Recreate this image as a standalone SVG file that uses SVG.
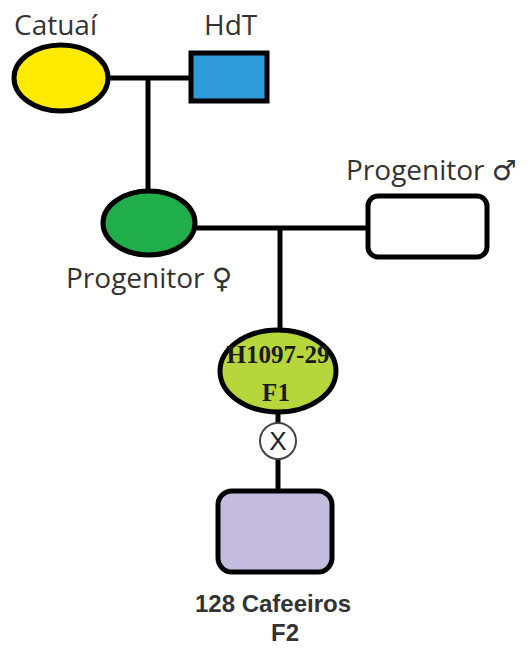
<svg xmlns="http://www.w3.org/2000/svg" width="530" height="648" viewBox="0 0 530 648">
<style>
.ln{stroke:#000;stroke-width:5;fill:none}
.nd{stroke:#000;stroke-width:5}
.lbl{font-family:"Open Sans","DejaVu Sans",sans-serif;font-size:28px;fill:#333}
.ser{font-family:"Liberation Serif",serif;font-weight:bold;font-size:25px;fill:#1a1a1a;text-anchor:middle}
.bold{font-family:"Liberation Sans",Arial,sans-serif;font-weight:bold;font-size:24px;fill:#333;text-anchor:middle}
</style>
<rect width="530" height="648" fill="#fff"/>
<g id="connectors">
<line class="ln" x1="108" y1="78" x2="192" y2="78"/>
<line class="ln" x1="148" y1="78" x2="148" y2="192"/>
<line class="ln" x1="195" y1="228" x2="369" y2="228"/>
<line class="ln" x1="280" y1="228" x2="280" y2="332"/>
<line class="ln" x1="278" y1="410" x2="278" y2="423"/>
<line class="ln" x1="278" y1="459" x2="278" y2="492"/>
</g>
<g id="catuai">
<ellipse class="nd" cx="61" cy="78" rx="47" ry="33" fill="#ffea00"/>
<text class="lbl" x="14" y="35">Catuaí</text>
</g>
<g id="hdt">
<rect class="nd" x="191" y="53" width="76" height="48" fill="#2e9ad8"/>
<text class="lbl" x="204" y="35">HdT</text>
</g>
<g id="progenitor-f">
<ellipse class="nd" cx="149" cy="223" rx="46" ry="32" fill="#1fae4a"/>
<text class="lbl" x="66" y="288">Progenitor ♀</text>
</g>
<g id="progenitor-m">
<rect class="nd" x="368" y="196" width="119" height="61" rx="10" fill="#fff"/>
<text class="lbl" x="346" y="180">Progenitor ♂</text>
</g>
<g id="f1">
<ellipse class="nd" cx="278" cy="371" rx="58" ry="41" fill="#b7d63c"/>
<text class="ser" x="278" y="363">H1097-29</text>
<text class="ser" x="276" y="401">F1</text>
</g>
<g id="self">
<circle cx="278" cy="441" r="18" fill="#fff" stroke="#444" stroke-width="2"/>
<text x="278" y="450" font-family="Liberation Sans, Arial, sans-serif" font-size="26" fill="#222" text-anchor="middle">X</text>
</g>
<g id="f2">
<rect class="nd" x="218" y="491" width="114" height="81" rx="14" fill="#c3bcdf"/>
<text class="bold" x="273" y="612">128 Cafeeiros</text>
<text class="bold" x="285" y="641">F2</text>
</g>
</svg>
